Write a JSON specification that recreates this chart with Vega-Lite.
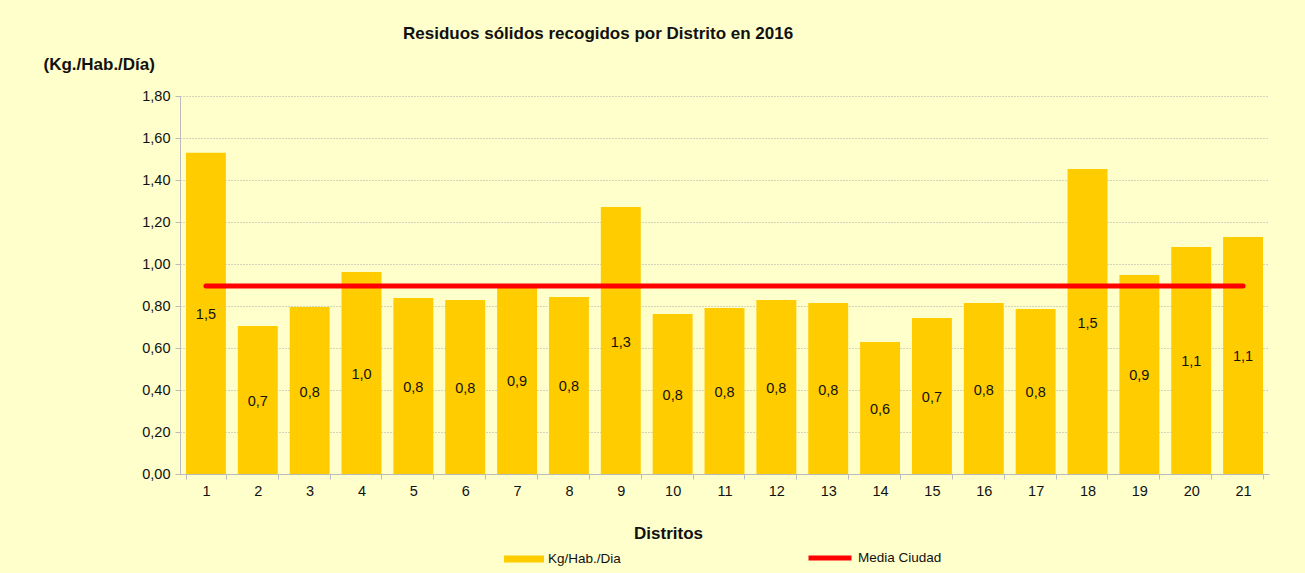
{
  "$schema": "https://vega.github.io/schema/vega-lite/v6.json",
  "autosize": {"type": "none"},
  "width": 1089,
  "height": 378,
  "padding": {"left": 180, "top": 96, "right": 36, "bottom": 99},
  "background": "#FFFFCC",
  "config": {
    "locale": {"number": {"decimal": ",", "thousands": ".", "grouping": [3], "currency": ["", " €"]}},
    "font": "Liberation Sans",
    "view": {"stroke": null},
    "axis": {
      "domainColor": "#BBBBBB",
      "tickColor": "#BBBBBB",
      "tickSize": 5,
      "labelFontSize": 14.5,
      "labelColor": "#111111",
      "titleColor": "#111111",
      "titleFontSize": 17,
      "titleFontWeight": "bold"
    }
  },
  "title": {
    "text": "Residuos sólidos recogidos por Distrito en 2016",
    "anchor": "start",
    "frame": "group",
    "dx": 223,
    "dy": -8,
    "fontSize": 17,
    "fontWeight": "bold",
    "color": "#111111"
  },
  "data": {
    "values": [
      {"d": "1", "v": 1.53, "media": 0.895},
      {"d": "2", "v": 0.705, "media": 0.895},
      {"d": "3", "v": 0.795, "media": 0.895},
      {"d": "4", "v": 0.962, "media": 0.895},
      {"d": "5", "v": 0.838, "media": 0.895},
      {"d": "6", "v": 0.829, "media": 0.895},
      {"d": "7", "v": 0.9, "media": 0.895},
      {"d": "8", "v": 0.843, "media": 0.895},
      {"d": "9", "v": 1.271, "media": 0.895},
      {"d": "10", "v": 0.762, "media": 0.895},
      {"d": "11", "v": 0.79, "media": 0.895},
      {"d": "12", "v": 0.829, "media": 0.895},
      {"d": "13", "v": 0.814, "media": 0.895},
      {"d": "14", "v": 0.629, "media": 0.895},
      {"d": "15", "v": 0.743, "media": 0.895},
      {"d": "16", "v": 0.814, "media": 0.895},
      {"d": "17", "v": 0.786, "media": 0.895},
      {"d": "18", "v": 1.452, "media": 0.895},
      {"d": "19", "v": 0.948, "media": 0.895},
      {"d": "20", "v": 1.081, "media": 0.895},
      {"d": "21", "v": 1.129, "media": 0.895}
    ]
  },
  "transform": [{"calculate": "datum.v / 2", "as": "mid"}],
  "encoding": {
    "x": {
      "field": "d",
      "type": "ordinal",
      "sort": null,
      "scale": {"paddingInner": 0.23, "paddingOuter": 0.115},
      "axis": {
        "labelAngle": 0,
        "tickBand": "extent",
        "labelPadding": 5,
        "title": "Distritos",
        "titleX": 488,
        "titleY": 59,
        "titleBaseline": "middle",
        "titleAlign": "center"
      }
    }
  },
  "layer": [
    {
      "mark": {"type": "bar"},
      "encoding": {
        "y": {
          "field": "v",
          "type": "quantitative",
          "scale": {"domain": [0, 1.8]},
          "axis": {
            "format": ".2f",
            "values": [0, 0.2, 0.4, 0.6, 0.8, 1, 1.2, 1.4, 1.6, 1.8],
            "grid": true,
            "gridColor": "#A8A8A8",
            "gridDash": [1, 2],
            "labelPadding": 5,
            "title": "(Kg./Hab./Día)",
            "titleAngle": 0,
            "titleAlign": "left",
            "titleBaseline": "middle",
            "titleX": -137,
            "titleY": -32
          }
        },
        "fill": {
          "datum": "Kg/Hab./Dia",
          "type": "nominal",
          "scale": {"range": ["#FFCC00"]},
          "legend": {
            "orient": "none",
            "legendX": 324,
            "legendY": 443,
            "title": null,
            "padding": 0,
            "symbolType": "M-1,-0.18L1,-0.18L1,0.18L-1,0.18Z",
            "symbolSize": 1600,
            "symbolStrokeWidth": 0,
            "labelFontSize": 13.5,
            "labelColor": "#111111"
          }
        }
      }
    },
    {
      "mark": {"type": "text", "fontSize": 14.5, "color": "#111111", "baseline": "middle", "dy": 2},
      "encoding": {
        "y": {"field": "mid", "type": "quantitative"},
        "text": {"field": "v", "type": "quantitative", "format": ".1f"}
      }
    },
    {
      "mark": {"type": "line", "strokeWidth": 5, "strokeCap": "round"},
      "encoding": {
        "y": {"field": "media", "type": "quantitative"},
        "stroke": {
          "datum": "Media Ciudad",
          "type": "nominal",
          "scale": {"range": ["#FF0000"]},
          "legend": {
            "orient": "none",
            "legendX": 626,
            "legendY": 438,
            "title": null,
            "padding": 0,
            "symbolType": "stroke",
            "symbolSize": 1849,
            "symbolStrokeWidth": 5,
            "labelFontSize": 13.5,
            "labelColor": "#111111"
          }
        }
      }
    }
  ]
}
